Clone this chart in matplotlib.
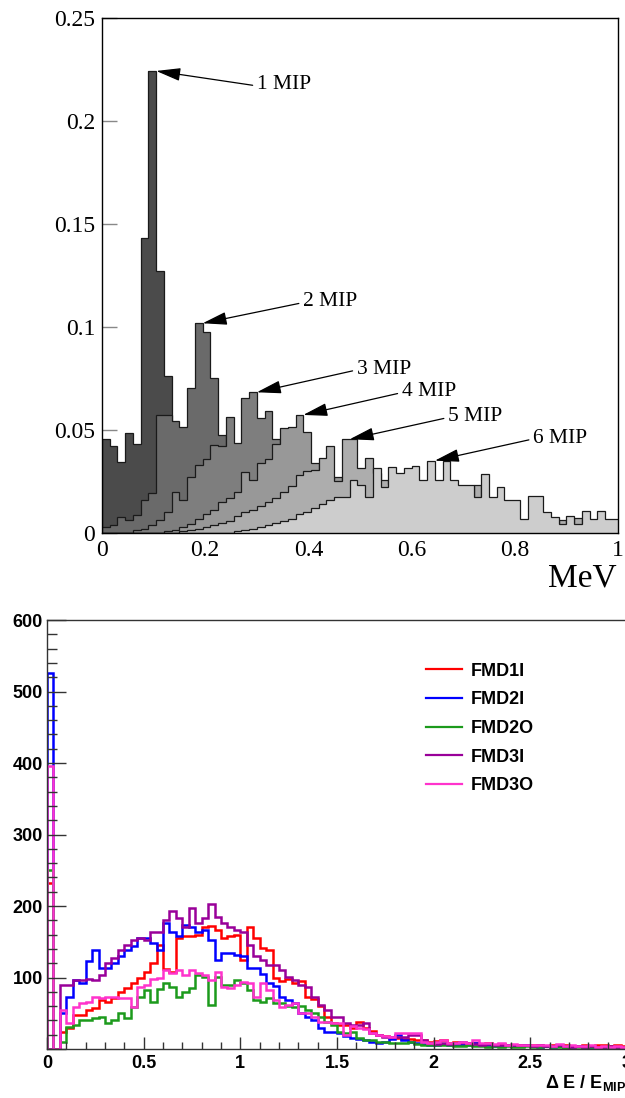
import matplotlib.pyplot as plt
import numpy as np


def pad(vals, n):
    return list(vals) + [0.0] * (n - len(vals))


# ---- top panel: energy deposit for 1..6 MIP (MeV), 0.015 MeV bins
n_mev = 67
mev_edges = np.arange(n_mev + 1) * 0.015

mip1 = pad([0.0455, 0.0424, 0.0343, 0.0484, 0.0430, 0.1430, 0.2243, 0.1273, 0.0762, 0.0450,
            0.0300, 0.0210, 0.0150, 0.0110, 0.0080, 0.0060, 0.0050, 0.0040, 0.0030, 0.0030,
            0.0020, 0.0020, 0.0015, 0.0010, 0.0010, 0.0010, 0.0005, 0.0005], n_mev)
mip2 = pad([0.0030, 0.0039, 0.0076, 0.0063, 0.0087, 0.0160, 0.0195, 0.0573, 0.0573, 0.0545,
            0.0516, 0.0702, 0.1018, 0.0977, 0.0751, 0.0476, 0.0400, 0.0350, 0.0300, 0.0250,
            0.0200, 0.0160, 0.0130, 0.0100, 0.0080, 0.0060, 0.0050, 0.0040, 0.0030, 0.0020,
            0.0020, 0.0010, 0.0010], n_mev)
mip3 = pad([0.0, 0.0, 0.0, 0.0, 0.0014, 0.0020, 0.0040, 0.0065, 0.0100, 0.0198,
            0.0160, 0.0270, 0.0330, 0.0360, 0.0425, 0.0420, 0.0565, 0.0435, 0.0655, 0.0683,
            0.0556, 0.0593, 0.0458, 0.0380, 0.0300, 0.0250, 0.0200, 0.0160, 0.0130, 0.0100,
            0.0080, 0.0060, 0.0050, 0.0040, 0.0030, 0.0020, 0.0020, 0.0010], n_mev)
mip4 = pad([0.0] * 8 +
           [0.0010, 0.0015, 0.0030, 0.0045, 0.0070, 0.0090, 0.0110, 0.0150, 0.0170, 0.0200,
            0.0298, 0.0257, 0.0338, 0.0360, 0.0430, 0.0508, 0.0516, 0.0573, 0.0490, 0.0341,
            0.0300, 0.0260, 0.0273, 0.0220, 0.0180, 0.0150, 0.0120, 0.0100, 0.0090, 0.0070,
            0.0060, 0.0050, 0.0040, 0.0030, 0.0030, 0.0020, 0.0020, 0.0010], n_mev)
mip5 = pad([0.0] * 10 +
           [0.0010, 0.0015, 0.0020, 0.0030, 0.0040, 0.0050, 0.0060, 0.0080, 0.0100, 0.0110,
            0.0130, 0.0150, 0.0170, 0.0200, 0.0230, 0.0280, 0.0300, 0.0307, 0.0363, 0.0423,
            0.0254, 0.0455, 0.0455, 0.0314, 0.0362, 0.0290, 0.0258, 0.0240, 0.0220, 0.0200,
            0.0180, 0.0160, 0.0150, 0.0140, 0.0130, 0.0120, 0.0110, 0.0100, 0.0233, 0.0100,
            0.0080, 0.0070, 0.0060, 0.0050, 0.0040, 0.0040, 0.0030, 0.0030, 0.0030, 0.0063,
            0.0020, 0.0074, 0.0020, 0.0020, 0.0020, 0.0010, 0.0010], n_mev)
mip6 = pad([0.0] * 17 +
           [0.0010, 0.0015, 0.0020, 0.0030, 0.0040, 0.0050, 0.0060, 0.0070, 0.0090, 0.0100,
            0.0120, 0.0140, 0.0160, 0.0175, 0.0175, 0.0258, 0.0233, 0.0175, 0.0314, 0.0225,
            0.0322, 0.0290, 0.0314, 0.0325, 0.0258, 0.0351, 0.0258, 0.0351, 0.0258, 0.0233,
            0.0233, 0.0176, 0.0286, 0.0176, 0.0222, 0.0160, 0.0160, 0.0066, 0.0181, 0.0181,
            0.0104, 0.0076, 0.0044, 0.0084, 0.0044, 0.0108, 0.0066, 0.0108, 0.0066, 0.0066], n_mev)

mips = [mip1, mip2, mip3, mip4, mip5, mip6]
mip_labels = ['1 MIP', '2 MIP', '3 MIP', '4 MIP', '5 MIP', '6 MIP']
mev_ticks = [0, 0.2, 0.4, 0.6, 0.8, 1]
mev_ticklabels = ['0', '0.2', '0.4', '0.6', '0.8', '1']
frac_ticks = [0, 0.05, 0.1, 0.15, 0.2, 0.25]
frac_ticklabels = ['0', '0.05', '0.1', '0.15', '0.2', '0.25']

# ---- bottom panel: Delta E / E_MIP per ring, 1/30 bins from 0 to 3
n_de = 90
de_edges = np.arange(n_de + 1) / 30.0

fmd1i = [232, 0, 24, 29, 48, 48, 55, 57, 69, 66,
         71, 80, 86, 92, 100, 108, 120, 145, 112, 108,
         155, 158, 158, 160, 170, 172, 166, 155, 158, 160,
         124, 170, 155, 142, 138, 100, 95, 98, 92, 95,
         73, 70, 60, 45, 36, 33, 33, 30, 38, 30,
         25, 20, 18, 16, 15, 14, 14, 12, 12, 10,
         11, 12, 9, 10, 8, 9, 8, 7, 8, 6,
         7, 6, 5, 6, 5, 6, 5, 4, 5, 4,
         5, 4, 4, 5, 4, 6, 5, 4, 5, 4]
fmd2i = [526, 0, 50, 73, 96, 92, 123, 139, 113, 113,
         120, 130, 139, 144, 155, 155, 148, 139, 176, 164,
         158, 174, 170, 164, 167, 153, 125, 134, 134, 132,
         130, 113, 113, 105, 92, 88, 73, 69, 64, 50,
         45, 40, 30, 24, 24, 22, 18, 16, 14, 12,
         10, 8, 10, 14, 20, 12, 10, 8, 7, 6,
         6, 7, 6, 5, 6, 5, 9, 5, 5, 4,
         4, 5, 4, 4, 5, 4, 3, 4, 3, 4,
         3, 3, 4, 3, 3, 2, 3, 2, 3, 2]
fmd2o = [250, 0, 10, 31, 34, 41, 41, 44, 45, 36,
         40, 50, 44, 59, 73, 83, 66, 84, 92, 87,
         73, 80, 85, 104, 101, 62, 101, 89, 90, 96,
         92, 83, 69, 66, 72, 64, 64, 60, 59, 60,
         55, 50, 45, 38, 33, 24, 22, 24, 15, 13,
         12, 10, 10, 9, 8, 8, 10, 7, 6, 5,
         6, 5, 5, 4, 4, 5, 4, 4, 3, 4,
         3, 4, 3, 3, 4, 3, 3, 4, 3, 3,
         2, 3, 3, 2, 3, 2, 2, 3, 2, 2]
fmd3i = [0, 0, 90, 90, 96, 96, 98, 96, 103, 120,
         127, 138, 146, 153, 155, 153, 164, 164, 180, 193,
         183, 171, 197, 176, 183, 203, 185, 176, 171, 167,
         164, 145, 130, 125, 118, 118, 110, 101, 96, 90,
         87, 73, 62, 55, 45, 45, 36, 33, 33, 36,
         22, 20, 17, 17, 17, 17, 20, 20, 12, 8,
         7, 8, 7, 8, 10, 8, 7, 6, 7, 6,
         5, 6, 5, 5, 6, 4, 5, 4, 4, 5,
         4, 3, 4, 3, 4, 3, 3, 4, 3, 3]
fmd3o = [396, 0, 54, 36, 59, 64, 66, 73, 71, 73,
         73, 71, 72, 59, 87, 90, 98, 100, 111, 106,
         111, 103, 111, 106, 103, 96, 108, 87, 85, 89,
         94, 92, 73, 92, 83, 69, 59, 62, 64, 50,
         50, 45, 38, 38, 36, 36, 20, 32, 30, 28,
         22, 20, 18, 17, 22, 22, 22, 22, 10, 9,
         10, 12, 8, 9, 10, 8, 13, 8, 9, 7,
         8, 6, 7, 5, 6, 5, 6, 5, 4, 7,
         4, 5, 4, 4, 5, 3, 4, 3, 4, 3]

ring_names = ['FMD1I', 'FMD2I', 'FMD2O', 'FMD3I', 'FMD3O']
rings = [fmd1i, fmd2i, fmd2o, fmd3i, fmd3o]
de_ticks = [0, 0.5, 1, 1.5, 2, 2.5, 3]
de_ticklabels = ['0', '0.5', '1', '1.5', '2', '2.5', '3']
count_ticks = [0, 100, 200, 300, 400, 500, 600]
count_ticklabels = ['', '100', '200', '300', '400', '500', '600']

serif = 'Liberation Serif'
sans = 'Liberation Sans'
plt.rcParams['mathtext.fontset'] = 'custom'
plt.rcParams['mathtext.rm'] = 'Liberation Sans:bold'

fig = plt.figure(figsize=(6.25, 10.98), dpi=100)

# ================= top panel
ax1 = fig.add_axes([0.1632, 0.5146, 0.8256, 0.469])
ax1.set_axisbelow(True)
greys = ['#4b4b4b', '#6a6a6a', '#7e7e7e', '#989898', '#adadad', '#cdcdcd']
for i, (vals, col) in enumerate(zip(mips, greys)):
    ax1.stairs(vals, mev_edges, fill=True, color=col, zorder=1 + 0.01 * i)
    ax1.stairs(vals, mev_edges, color='#1a1a1a', lw=0.9, zorder=1.005 + 0.01 * i)

ax1.set_xlim(0, 1)
ax1.set_ylim(0, 0.25)
ax1.set_xticks(mev_ticks)
ax1.set_xticklabels(mev_ticklabels, family=serif, fontsize=17)
ax1.set_yticks(frac_ticks)
ax1.set_yticklabels(frac_ticklabels, family=serif, fontsize=17)
ax1.tick_params(axis='y', direction='in', length=11, width=1, color='#888888', pad=5)
ax1.tick_params(axis='x', direction='in', length=0, pad=5)
for sp in ax1.spines.values():
    sp.set_linewidth(1.0)

label_pos = [(0.300, 0.2175), (0.3895, 0.1123), (0.4936, 0.0796),
             (0.5808, 0.0686), (0.6705, 0.0565), (0.8353, 0.0461)]
for vals, lab, pos in zip(mips, mip_labels, label_pos):
    k = int(np.argmax(vals))
    ax1.annotate(lab, xy=(mev_edges[k + 1], vals[k]), xytext=pos,
                 family=serif, fontsize=15.5, ha='left', va='center', zorder=5,
                 arrowprops=dict(arrowstyle='-|>,head_length=0.75,head_width=0.2',
                                 mutation_scale=20, color='black', lw=0.9,
                                 shrinkA=1, shrinkB=0, relpos=(0, 0.45)))

fig.text(548 / 625, 1 - 578 / 1098, 'MeV', family=serif, fontsize=24,
         ha='left', va='center')

# ================= bottom panel
ax2 = fig.add_axes([0.0752, 0.0446, 0.928, 0.3907])
ring_colors = ['#ff0000', '#0000ff', '#1c9a1c', '#990099', '#ff33cc']
for vals, col, name in zip(rings, ring_colors, ring_names):
    ax2.stairs(vals, de_edges, color=col, lw=1.8, label=name)

ax2.set_xlim(0, 3)
ax2.set_ylim(0, 600)
ax2.set_xticks(de_ticks)
ax2.set_xticklabels(de_ticklabels, family=sans, fontweight='bold', fontsize=13)
ax2.set_xticks(np.arange(0, 3.01, 0.1), minor=True)
ax2.set_yticks(count_ticks)
ax2.set_yticklabels(count_ticklabels, family=sans, fontweight='bold', fontsize=13)
ax2.set_yticks(np.arange(0, 601, 20), minor=True)
ax2.tick_params(axis='y', which='major', direction='in', length=13.5, width=1, color='#333333', pad=3)
ax2.tick_params(axis='y', which='minor', direction='in', length=7, width=1, color='#333333')
ax2.tick_params(axis='x', which='major', direction='in', length=9, width=1, color='#333333', pad=4)
ax2.tick_params(axis='x', which='minor', direction='in', length=5, width=1, color='#333333')
for sp in ax2.spines.values():
    sp.set_linewidth(1.0)
    sp.set_color('#333333')

leg = ax2.legend(loc='upper left', bbox_to_anchor=(0.653, 0.901), frameon=False,
                 prop={'family': sans, 'weight': 'bold', 'size': 13},
                 handlelength=2.0, handletextpad=0.5, labelspacing=0.65, borderpad=0,
                 borderaxespad=0)
for h in leg.get_lines():
    h.set_linewidth(1.6)

fig.text(545 / 625, 1 - 1083 / 1098, 'Δ E / E$_{\\mathrm{MIP}}$', family=sans,
         fontweight='bold', fontsize=13, ha='left', va='center')

fig.savefig('out.png', dpi=100)
